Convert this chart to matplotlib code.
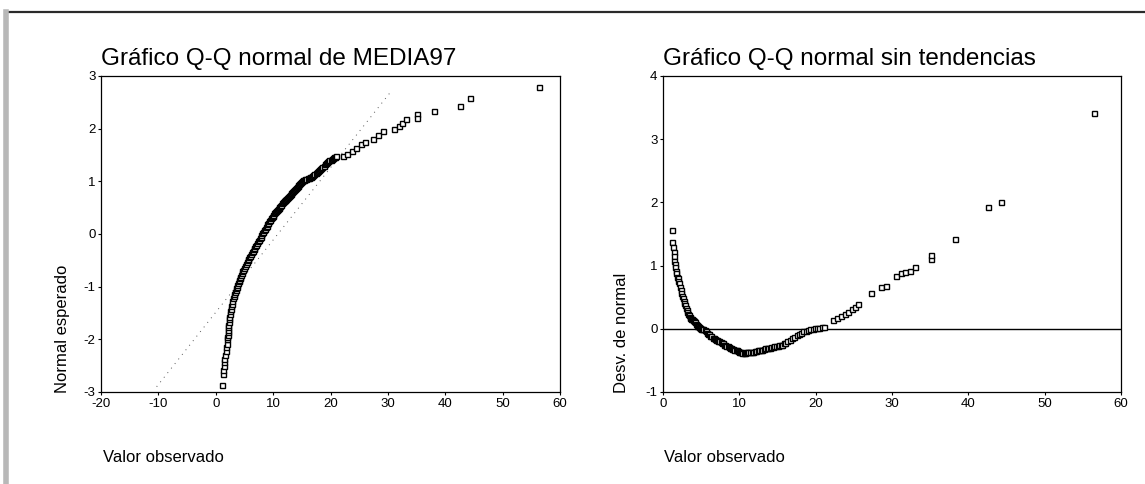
import matplotlib
matplotlib.use("Agg")
import matplotlib.pyplot as plt
from matplotlib.lines import Line2D

plt.rcParams['font.family'] = ['Liberation Sans', 'DejaVu Sans']
plt.rcParams['axes.unicode_minus'] = False

# ---------------- data ----------------
title_left = "Gráfico Q-Q normal de MEDIA97"
title_right = "Gráfico Q-Q normal sin tendencias"
xlabel_text = "Valor observado"
ylabel_left = "Normal esperado"
ylabel_right = "Desv. de normal"

# Left: observed value vs expected normal value
qq_x = [1.1, 1.3, 1.35, 1.4, 1.45, 1.5, 1.6, 1.7, 1.8, 1.9,
        2.0, 2.03, 2.06, 2.1, 2.13, 2.16, 2.2, 2.25, 2.3, 2.37,
        2.45, 2.52, 2.6, 2.7, 2.8, 2.9, 3.0, 3.1, 3.2, 3.32,
        3.45, 3.55, 3.65, 3.78, 3.9, 4.0, 4.1, 4.2, 4.3, 4.4,
        4.5, 4.65, 4.8, 4.95, 5.1, 5.25, 5.4, 5.55, 5.7, 5.85,
        6.0, 6.15, 6.3, 6.45, 6.6, 6.75, 6.9, 7.05, 7.2, 7.35,
        7.5, 7.65, 7.8, 7.95, 8.1, 8.25, 8.4, 8.55, 8.7, 8.85,
        9.0, 9.15, 9.3, 9.45, 9.6, 9.75, 9.9, 10.05, 10.2, 10.35,
        10.5, 10.65, 10.8, 10.95, 11.1, 11.25, 11.4, 11.55, 11.7, 11.85,
        12.0, 12.15, 12.3, 12.45, 12.6, 12.75, 12.9, 13.05, 13.2, 13.35,
        13.5, 13.65, 13.8, 13.95, 14.1, 14.25, 14.4, 14.55, 14.7, 14.85,
        15.0, 15.2, 15.4, 15.6, 15.8, 16.0, 16.2, 16.4, 16.6, 16.8,
        17.0, 17.2, 17.4, 17.6, 17.8, 18.0, 18.2, 18.4, 18.6, 18.8,
        19.0, 19.2, 19.4, 19.6, 19.8, 20.0, 20.2, 20.4, 20.6, 20.8, 21.0,
        22.2, 22.9, 23.7, 24.5, 25.4, 26.0, 27.4, 28.3, 29.2,
        31.1, 31.9, 32.5, 33.1, 35.1, 35.1, 38.1, 42.6, 44.3, 56.4]
qq_z = [-2.87, -2.66, -2.58, -2.5, -2.43, -2.37, -2.3, -2.22, -2.15, -2.08,
        -2.0, -1.96, -1.92, -1.87, -1.82, -1.77, -1.72, -1.67, -1.62, -1.57,
        -1.52, -1.47, -1.42, -1.37, -1.32, -1.27, -1.22, -1.18, -1.14, -1.1,
        -1.06, -1.03, -1.0, -0.96, -0.93, -0.9, -0.87, -0.84, -0.81, -0.78,
        -0.75, -0.71, -0.68, -0.64, -0.61, -0.57, -0.54, -0.5, -0.47, -0.44,
        -0.41, -0.38, -0.35, -0.32, -0.29, -0.26, -0.23, -0.2, -0.17, -0.14,
        -0.11, -0.08, -0.05, -0.02, 0.01, 0.04, 0.07, 0.1, 0.13, 0.16,
        0.19, 0.21, 0.24, 0.27, 0.3, 0.32, 0.35, 0.37, 0.4, 0.42,
        0.44, 0.46, 0.48, 0.5, 0.52, 0.54, 0.56, 0.58, 0.6, 0.62,
        0.64, 0.65, 0.67, 0.69, 0.71, 0.72, 0.74, 0.76, 0.78, 0.79,
        0.81, 0.83, 0.85, 0.87, 0.89, 0.91, 0.93, 0.95, 0.97, 0.98,
        1.0, 1.02, 1.03, 1.04, 1.05, 1.06, 1.07, 1.08, 1.09, 1.1,
        1.12, 1.14, 1.16, 1.18, 1.2, 1.22, 1.24, 1.26, 1.28, 1.3,
        1.32, 1.34, 1.36, 1.38, 1.4, 1.41, 1.43, 1.44, 1.46, 1.47, 1.49,
        1.48, 1.52, 1.57, 1.64, 1.71, 1.74, 1.8, 1.88, 1.95,
        2.0, 2.05, 2.11, 2.18, 2.27, 2.2, 2.33, 2.43, 2.59, 2.8]

# reference line (dotted) end points
ref_x = [-10.3, 30.5]
ref_z = [-2.9, 2.7]

# Right: observed value vs deviation from normal
dt_x = [1.22, 1.22, 1.35, 1.4, 1.45, 1.5, 1.55, 1.6, 1.7, 1.75, 1.85,
        1.9, 2.0, 2.1, 2.2, 2.3, 2.4, 2.5, 2.6, 2.7, 2.8, 2.9, 3.0,
        3.1, 3.2, 3.3, 3.4, 3.5, 3.6, 3.7, 3.8, 3.9, 4.0, 4.1, 4.2,
        4.3, 4.4, 4.5, 4.6, 4.7, 4.8, 4.9, 5.0, 5.15, 5.3, 5.45, 5.6,
        5.75, 5.9, 6.05, 6.2, 6.35, 6.5, 6.65, 6.8, 6.95, 7.1, 7.25,
        7.4, 7.55, 7.7, 7.85, 8.0, 8.15, 8.3, 8.45, 8.6, 8.75, 8.9,
        9.05, 9.2, 9.35, 9.5, 9.65, 9.8, 9.95, 10.1, 10.25, 10.4, 10.55,
        10.7, 10.85, 11.0, 11.2, 11.4, 11.6, 11.8, 12.0, 12.2, 12.4,
        12.6, 12.8, 13.0, 13.2, 13.4, 13.6, 13.8, 14.0, 14.2, 14.4,
        14.6, 14.8, 15.0, 15.2, 15.4, 15.6, 15.8, 16.0,
        16.3, 16.6, 16.9, 17.2, 17.5, 17.8, 18.1, 18.4, 18.7, 19.0,
        19.3, 19.6, 19.9, 20.2, 20.5, 20.8, 21.1,
        22.3, 22.8, 23.3, 23.8, 24.3, 24.8, 25.2, 25.6, 27.2, 28.6,
        29.2, 30.5, 31.2, 31.7, 32.3, 33.0, 35.1, 35.1, 38.3, 42.6,
        44.3, 56.4]
dt_y = [1.57, 1.37, 1.29, 1.22, 1.15, 1.08, 1.02, 0.97, 0.92, 0.88, 0.82,
        0.8, 0.75, 0.72, 0.66, 0.62, 0.57, 0.52, 0.48, 0.44, 0.41, 0.37, 0.33,
        0.3, 0.27, 0.24, 0.22, 0.19, 0.17, 0.16, 0.15, 0.14, 0.13, 0.12, 0.1,
        0.08, 0.06, 0.05, 0.04, 0.03, 0.02, 0.01, 0.0, 0.0, -0.01, -0.02, -0.04,
        -0.06, -0.08, -0.09, -0.11, -0.12, -0.14, -0.15, -0.16, -0.17, -0.18, -0.19,
        -0.2, -0.21, -0.22, -0.23, -0.25, -0.26, -0.27, -0.28, -0.29, -0.3, -0.31,
        -0.32, -0.32, -0.33, -0.33, -0.34, -0.35, -0.36, -0.37, -0.37, -0.38, -0.38,
        -0.38, -0.37, -0.37, -0.37, -0.36, -0.36, -0.36, -0.35, -0.35, -0.34,
        -0.34, -0.33, -0.33, -0.32, -0.31, -0.31, -0.3, -0.3, -0.29, -0.29,
        -0.28, -0.28, -0.27, -0.26, -0.26, -0.25, -0.23, -0.22,
        -0.2, -0.18, -0.15, -0.13, -0.1, -0.08, -0.06, -0.04, -0.03, -0.02,
        -0.01, 0.0, 0.01, 0.02, 0.02, 0.03, 0.03,
        0.14, 0.17, 0.2, 0.23, 0.27, 0.31, 0.35, 0.39, 0.56, 0.66,
        0.68, 0.84, 0.88, 0.9, 0.92, 0.97, 1.11, 1.17, 1.42, 1.92,
        2.01, 3.42]

left_xticks = [-20, -10, 0, 10, 20, 30, 40, 50, 60]
left_yticks = [-3, -2, -1, 0, 1, 2, 3]
right_xticks = [0, 10, 20, 30, 40, 50, 60]
right_yticks = [-1, 0, 1, 2, 3, 4]

# ---------------- figure ----------------
W, H = 1145, 484
fig = plt.figure(figsize=(W / 100, H / 100), dpi=100)
fig.patch.set_facecolor('white')


def fx(px):
    return px / W


def fy(py):
    return 1 - py / H


TOP, BOT = 76, 392

# page decorations (top rule and left grey bar)
fig.add_artist(Line2D([fx(8), 1.0], [fy(12), fy(12)], color='#2a2a2a', lw=1.6))
fig.add_artist(Line2D([fx(6), fx(6)], [fy(12), 0], color='#b8b8b8', lw=4))

ax_l = fig.add_axes([fx(101), fy(BOT), fx(459), (BOT - TOP) / H])
ax_r = fig.add_axes([fx(663), fy(BOT), fx(458), (BOT - TOP) / H])

mk = dict(marker='s', linestyle='none', markersize=3.6, markerfacecolor='white',
          markeredgecolor='black', markeredgewidth=1.0)

ax_l.plot(ref_x, ref_z, color='#555555', lw=0.7, linestyle=(0, (1, 5)))
ax_l.plot(qq_x, qq_z, **mk)
ax_l.set_xlim(-20, 60)
ax_l.set_ylim(-3, 3)
ax_l.set_xticks(left_xticks)
ax_l.set_yticks(left_yticks)

ax_r.axhline(0, color='black', lw=1.0)
ax_r.plot(dt_x, dt_y, **mk)
ax_r.set_xlim(0, 60)
ax_r.set_ylim(-1, 4)
ax_r.set_xticks(right_xticks)
ax_r.set_yticks(right_yticks)

for ax in (ax_l, ax_r):
    for s in ax.spines.values():
        s.set_linewidth(0.9)
        s.set_color('black')
    ax.tick_params(direction='out', length=2, width=0.8, labelsize=9.5, pad=2,
                   colors='black')

# titles
fig.text(fx(101), fy(65), title_left, fontsize=17.5, ha='left', va='baseline')
fig.text(fx(663), fy(65), title_right, fontsize=17.5, ha='left', va='baseline')

# x labels
fig.text(fx(103), fy(457), xlabel_text, fontsize=12, ha='left', va='center')
fig.text(fx(664), fy(457), xlabel_text, fontsize=12, ha='left', va='center')

# y labels
fig.text(fx(62), fy(393), ylabel_left, fontsize=12, rotation=90,
         ha='center', va='bottom')
fig.text(fx(621), fy(393), ylabel_right, fontsize=12, rotation=90,
         ha='center', va='bottom')

fig.savefig('out.png', dpi=100, facecolor='white')
